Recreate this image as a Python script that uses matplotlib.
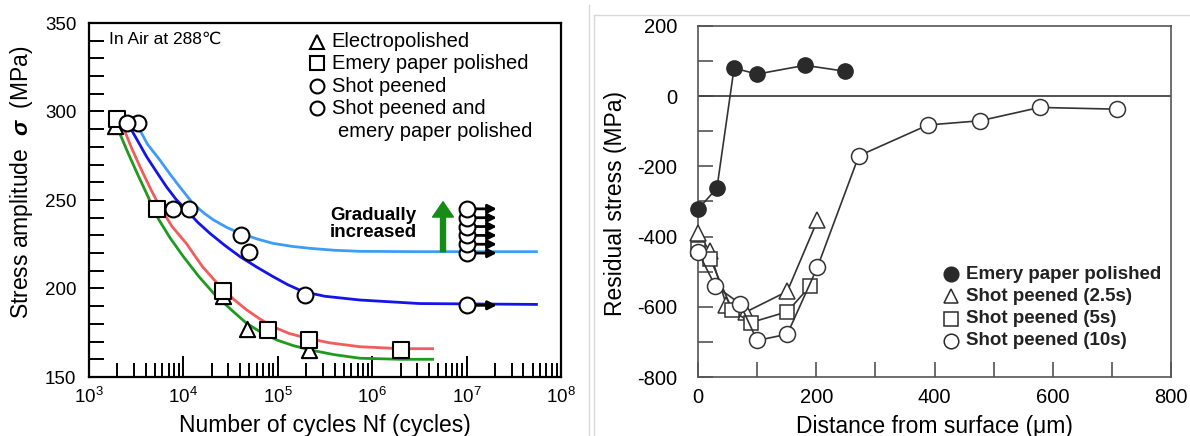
import numpy as np
import matplotlib
matplotlib.use("Agg")
import matplotlib.pyplot as plt
from matplotlib.lines import Line2D
from matplotlib.ticker import MultipleLocator, LogLocator, NullFormatter

plt.rcParams['font.family'] = ['Liberation Sans', 'DejaVu Sans']
plt.rcParams['mathtext.fontset'] = 'custom'
plt.rcParams['mathtext.rm'] = 'Liberation Sans'
plt.rcParams['mathtext.it'] = 'Liberation Sans:italic'
plt.rcParams['mathtext.bf'] = 'Liberation Sans:bold'
plt.rcParams['mathtext.bfit'] = 'Liberation Sans:italic:bold'
plt.rcParams['axes.unicode_minus'] = False

# ---- left: S-N data (cycles, stress amplitude MPa) ----
ep_n = [1.9e3, 2.6e4, 4.7e4, 2.15e5]
ep_s = [292, 196, 177, 165.5]
emery_n = [2.0e3, 5.2e3, 2.6e4, 7.9e4, 2.15e5, 2.0e6]
emery_s = [295.5, 245, 198.5, 176.5, 171, 165.5]
sp_n = [3.3e3, 1.15e4, 4.1e4, 5.0e4]
sp_s = [293.5, 245, 230, 220.5]
spe_n = [2.5e3, 7.8e3, 1.95e5, 1.0e7]
spe_s = [293.5, 245, 196.5, 190.5]
runout_n = 1.0e7
runout_s = [220, 225, 230, 235, 240, 245]
runout_low_s = 190.5

# fitted curves (log10 N, MPa)
lb_logn = [3.47, 3.52, 3.62, 3.75, 3.86, 3.96, 4.10, 4.22, 4.32, 4.46, 4.60, 4.78, 4.95, 5.15, 5.34, 5.6, 5.87, 6.5, 7.74]
lb_s = [295, 291.4, 281.5, 272.6, 264.5, 257.5, 248.1, 242.5, 238.7, 234.5, 231.2, 228.0, 225.5, 223.8, 222.7, 221.6, 221, 220.8, 220.8]
bl_logn = [3.37, 3.42, 3.52, 3.61, 3.72, 3.82, 3.92, 4.03, 4.15, 4.28, 4.44, 4.60, 4.78, 4.95, 5.1, 5.27, 5.5, 5.87, 6.5, 7.74]
bl_s = [296, 292.4, 283, 274.5, 265.5, 257.5, 250.5, 244.4, 237.5, 231.2, 224.3, 218, 212, 206.7, 202.3, 198.2, 195.6, 193.5, 191.5, 191]
rd_logn = [3.32, 3.36, 3.45, 3.54, 3.65, 3.75, 3.88, 4.03, 4.2, 4.39, 4.53, 4.67, 4.81, 4.95, 5.12, 5.31, 5.55, 5.87, 6.3, 6.64]
rd_s = [295, 291.4, 279.5, 268.8, 256.5, 246.2, 235, 225.5, 212.5, 201, 194, 187.9, 182.8, 178.4, 174.6, 171.9, 169.3, 167.1, 166, 166]
gr_logn = [3.29, 3.31, 3.41, 3.51, 3.62, 3.72, 3.86, 4.0, 4.16, 4.32, 4.5, 4.67, 4.83, 4.99, 5.16, 5.34, 5.6, 5.87, 6.3, 6.64]
gr_s = [294, 289.6, 277, 265.1, 252.5, 240.6, 228.5, 218, 207, 197.3, 188.3, 180.3, 175, 170.9, 167.8, 165.3, 162.6, 160.6, 160, 160]

# ---- right: residual stress profiles (um, MPa) ----
emery_d = [0, 32, 61, 100, 181, 249]
emery_r = [-322, -262, 80, 63, 88, 71]
sp25_d = [0, 20, 48, 82, 151, 202]
sp25_r = [-390, -442, -595, -614, -556, -354]
sp5_d = [0, 21, 58, 89, 151, 189]
sp5_r = [-435, -464, -610, -645, -614, -542]
sp10_d = [0, 29, 71, 100, 151, 202, 272, 389, 477, 578, 709]
sp10_r = [-443, -540, -591, -696, -678, -487, -170, -82, -70, -32, -37]

fig = plt.figure(figsize=(11.9, 4.36), dpi=100)

# ================= left chart =================
ax = fig.add_axes([89 / 1190, 59 / 436, 472 / 1190, 354 / 436])
ax.set_xscale('log')
ax.set_xlim(1e3, 1e8)
ax.set_ylim(150, 350)

ax.plot(10 ** np.array(lb_logn), lb_s, color='#3d9df5', lw=2, zorder=2)
ax.plot(10 ** np.array(bl_logn), bl_s, color='#1414e6', lw=2, zorder=2)
ax.plot(10 ** np.array(rd_logn), rd_s, color='#f25c5c', lw=2, zorder=2)
ax.plot(10 ** np.array(gr_logn), gr_s, color='#1f9a1f', lw=2, zorder=2)

# run-out arrows
arr_end = 10 ** 7.32
for s in runout_s + [runout_low_s]:
    ax.annotate('', xy=(arr_end, s), xytext=(runout_n, s),
                arrowprops=dict(arrowstyle='-|>', color='black', lw=2,
                                mutation_scale=13, shrinkA=0, shrinkB=0),
                zorder=3)

mk = dict(facecolor='white', edgecolor='black', linewidths=1.5, zorder=5)
ax.scatter(ep_n, ep_s, marker='^', s=120, **mk)
ax.scatter(emery_n, emery_s, marker='s', s=120, **mk)
ax.scatter(sp_n, sp_s, marker='o', s=130, **mk)
ax.scatter(spe_n, spe_s, marker='o', s=130, **mk)
ax.scatter([runout_n] * len(runout_s), runout_s, marker='o', s=130, **mk)

# gradually increased arrow
ax.annotate('', xy=(10 ** 6.75, 249), xytext=(10 ** 6.75, 220.8),
            arrowprops=dict(width=3.6, headwidth=15, headlength=11,
                            color='#168c16', shrink=0), zorder=4)
ax.text(10 ** 6.47, 236.5, 'Gradually\nincreased', ha='right', va='center',
        fontsize=13.5, fontweight='bold', linespacing=1.05)

ax.text(0.042, 0.955, 'In Air at 288\u2103', transform=ax.transAxes,
        ha='left', va='center', fontsize=12.5)

leg_rows = [0.947, 0.886, 0.822, 0.759]
leg_marks = ['^', 's', 'o', 'o']
leg_labels = ['Electropolished', 'Emery paper polished', 'Shot peened', 'Shot peened and']
for yy, m, lab in zip(leg_rows, leg_marks, leg_labels):
    ax.plot([0.482], [yy], transform=ax.transAxes, marker=m, ms=10,
            mfc='white', mec='black', mew=1.5, ls='none', clip_on=False)
    ax.text(0.514, yy, lab, transform=ax.transAxes, ha='left', va='center',
            fontsize=14.5)
ax.text(0.527, 0.693, 'emery paper polished', transform=ax.transAxes,
        ha='left', va='center', fontsize=14.5)

ax.xaxis.set_major_locator(LogLocator(base=10, numticks=10))
ax.xaxis.set_minor_locator(LogLocator(base=10, subs=np.arange(2, 10), numticks=20))
ax.xaxis.set_minor_formatter(NullFormatter())
ax.yaxis.set_major_locator(MultipleLocator(50))
ax.yaxis.set_minor_locator(MultipleLocator(10))
ax.tick_params(axis='both', which='both', direction='in', top=False, right=False,
               width=1.4, labelsize=13.5)
ax.tick_params(axis='y', which='both', length=11, pad=9)
ax.tick_params(axis='x', which='major', length=15, pad=7)
ax.tick_params(axis='x', which='minor', length=10)
for sp in ax.spines.values():
    sp.set_linewidth(1.6)

ax.set_xlabel('Number of cycles Nf (cycles)', fontsize=16.5, va='center')
ax.xaxis.set_label_coords(0.5, -0.136)
ax.set_ylabel('Stress amplitude  $\\mathbfit{\\sigma}$  (MPa)', fontsize=16.5, va='center')
ax.yaxis.set_label_coords(-0.144, 0.55)

# ================= right chart =================
ax2 = fig.add_axes([698 / 1190, 59 / 436, 473 / 1190, 351 / 436])
ax2.set_xlim(0, 800)
ax2.set_ylim(-800, 200)
ax2.axhline(0, color='#333333', lw=1.2, zorder=1)

lc = '#333333'
ax2.plot(emery_d, emery_r, color=lc, lw=1.2, marker='o', ms=11,
         mfc='#2a2a2a', mec='#2a2a2a', zorder=3, clip_on=False)
ax2.plot(sp25_d, sp25_r, color=lc, lw=1.2, marker='^', ms=11,
         mfc='white', mec=lc, mew=1.1, zorder=3, clip_on=False)
ax2.plot(sp5_d, sp5_r, color=lc, lw=1.2, marker='s', ms=10,
         mfc='white', mec=lc, mew=1.1, zorder=3, clip_on=False)
ax2.plot(sp10_d, sp10_r, color=lc, lw=1.2, marker='o', ms=11.5,
         mfc='white', mec=lc, mew=1.1, zorder=4, clip_on=False)

rleg_rows = [0.293, 0.230, 0.166, 0.103]
rleg = [('o', '#2a2a2a', 'Emery paper polished'), ('^', 'white', 'Shot peened (2.5s)'),
        ('s', 'white', 'Shot peened (5s)'), ('o', 'white', 'Shot peened (10s)')]
for yy, (m, fc, lab) in zip(rleg_rows, rleg):
    ax2.plot([0.534], [yy], transform=ax2.transAxes, marker=m, ms=10.5,
             mfc=fc, mec='#2a2a2a', mew=1.1, ls='none', clip_on=False)
    ax2.text(0.566, yy, lab, transform=ax2.transAxes, ha='left', va='center',
             fontsize=13.5, fontweight='bold', color='#222222')

ax2.xaxis.set_major_locator(MultipleLocator(200))
ax2.xaxis.set_minor_locator(MultipleLocator(100))
ax2.yaxis.set_major_locator(MultipleLocator(200))
ax2.yaxis.set_minor_locator(MultipleLocator(100))
ax2.tick_params(axis='both', which='both', direction='in', top=False, right=False,
                length=11, width=1.1, color='#444444', labelsize=14.5)
ax2.tick_params(axis='y', which='both', pad=15)
ax2.tick_params(axis='x', which='both', pad=8)
for sp in ax2.spines.values():
    sp.set_linewidth(1.2)
    sp.set_color('#555555')

ax2.set_xlabel('Distance from surface (\u03bcm)', fontsize=16.5, va='center')
ax2.xaxis.set_label_coords(0.5, -0.142)
ax2.set_ylabel('Residual stress (MPa)', fontsize=16.5, va='center')
ax2.yaxis.set_label_coords(-0.175, 0.493)

# panel separators
fig.add_artist(Line2D([588.5 / 1190] * 2, [0, 1 - 5 / 436], color='#d8d8d8', lw=1))
fig.add_artist(Line2D([594 / 1190, 1], [1 - 15 / 436] * 2, color='#d8d8d8', lw=1))
fig.add_artist(Line2D([594 / 1190] * 2, [0, 1 - 15 / 436], color='#d8d8d8', lw=1))

fig.savefig('out.png', dpi=100)
